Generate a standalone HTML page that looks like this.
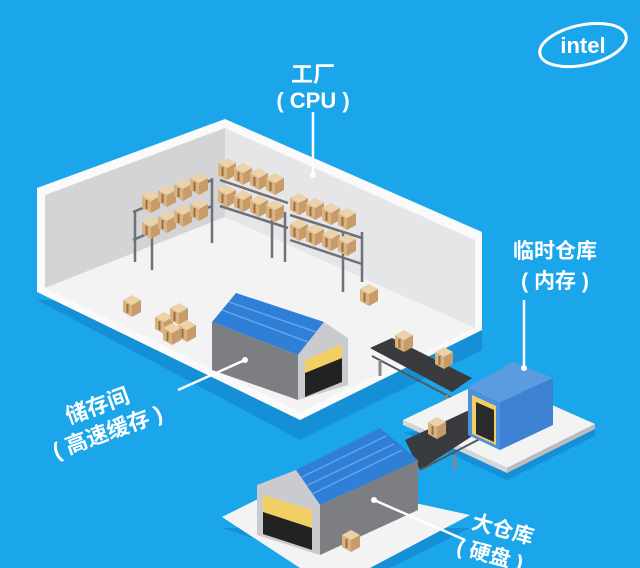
<!DOCTYPE html>
<html><head><meta charset="utf-8"><style>
html,body{margin:0;padding:0;background:#1ba6ec;}
svg{display:block}
text{font-family:"Liberation Sans","Noto Sans CJK SC",sans-serif;fill:#fff;font-weight:bold}
</style></head><body>
<svg width="640" height="568" viewBox="0 0 640 568" xmlns="http://www.w3.org/2000/svg">
<rect width="640" height="568" fill="#1ba6ec"/>
<defs>
<g id="box"><polygon points="0,5 9,0 18,5 9,10" fill="#ecd2a8"/><polygon points="0,5 9,10 9,22 0,17" fill="#d9b282"/><polygon points="9,10 18,5 18,17 9,22" fill="#c89c6a"/><rect x="3.5" y="9" width="2" height="9" fill="#9a6e40"/></g>
</defs>
<!-- shadows -->
<polygon points="37,300 300,440 482,350 482,300" fill="#1590d6"/>
<polygon points="403,432 507,480 595,436 595,424" fill="#1590d6"/>
<polygon points="222,528 370,578 470,528" fill="#1590d6"/>
<!-- room outer -->
<polygon points="37,188 225,119 482,232 482,330 300,420 37,292" fill="#fafafa"/>
<polygon points="45,195 225,128 225,217 45,288" fill="#d4d4d6"/>
<polygon points="225,128 475,240 475,328 225,217" fill="#e6e6e8"/>
<polygon points="45,288 225,217 475,328 300,412" fill="#f3f3f3"/>
<!-- shelves -->
<g stroke="#6d7178" stroke-width="2.5" fill="none">
<line x1="133" y1="212" x2="212" y2="180"/><line x1="133" y1="240" x2="212" y2="206"/>
<line x1="220" y1="180" x2="288" y2="203"/><line x1="220" y1="206" x2="288" y2="228"/>
<line x1="290" y1="215" x2="362" y2="238"/><line x1="290" y1="240" x2="362" y2="264"/>
<line x1="135" y1="212" x2="135" y2="262"/><line x1="152" y1="218" x2="152" y2="270"/>
<line x1="212" y1="178" x2="212" y2="243"/><line x1="272" y1="205" x2="272" y2="258"/>
<line x1="285" y1="212" x2="285" y2="262"/><line x1="343" y1="233" x2="343" y2="292"/><line x1="362" y1="232" x2="362" y2="282"/>
</g>
<g>
<use href="#box" x="142" y="191"/><use href="#box" x="158" y="185"/><use href="#box" x="174" y="179"/><use href="#box" x="190" y="173"/>
<use href="#box" x="142" y="217"/><use href="#box" x="158" y="211"/><use href="#box" x="174" y="205"/><use href="#box" x="190" y="199"/>
<use href="#box" x="218" y="158"/><use href="#box" x="234" y="163"/><use href="#box" x="250" y="168"/><use href="#box" x="266" y="173"/>
<use href="#box" x="218" y="185"/><use href="#box" x="234" y="190"/><use href="#box" x="250" y="195"/><use href="#box" x="266" y="200"/>
<use href="#box" x="290" y="193"/><use href="#box" x="306" y="198"/><use href="#box" x="322" y="203"/><use href="#box" x="338" y="208"/>
<use href="#box" x="290" y="219"/><use href="#box" x="306" y="224"/><use href="#box" x="322" y="229"/><use href="#box" x="338" y="234"/>
<use href="#box" x="360" y="284"/><use href="#box" x="123" y="295"/>
<use href="#box" x="155" y="312"/><use href="#box" x="170" y="303"/><use href="#box" x="178" y="320"/><use href="#box" x="163" y="323"/>
</g>
<!-- small warehouse (cache) -->
<polygon points="212,322 298,355 298,400 212,370" fill="#7c7e82"/>
<polygon points="212,322 236,293 324,322 298,355" fill="#2f7fd6"/>
<g stroke="#5fa6ee" stroke-width="1.5"><line x1="222" y1="310" x2="308" y2="342"/><line x1="229" y1="302" x2="316" y2="332"/></g>
<polygon points="298,355 324,322 348,338 348,385 298,400" fill="#c9cbcf"/>
<polygon points="305,360 342,344 342,370 305,385" fill="#f2cf62"/>
<polygon points="305,373 342,358 342,382 305,397" fill="#222"/>
<!-- conveyors -->
<polygon points="370,348 392,338 472,378 452,392" fill="#3a3b3e"/>
<line x1="372" y1="356" x2="452" y2="398" stroke="#55585c" stroke-width="2"/>
<line x1="380" y1="360" x2="380" y2="376" stroke="#888" stroke-width="3"/><line x1="447" y1="395" x2="447" y2="410" stroke="#888" stroke-width="3"/>
<use href="#box" x="395" y="330"/><use href="#box" x="435" y="347"/>
<!-- memory platform -->
<polygon points="403,420 491,378 595,424 507,468" fill="#f3f3f3"/>
<polygon points="403,420 507,468 507,473 403,425" fill="#d5d5d8"/>
<polygon points="507,468 595,424 595,429 507,473" fill="#bcbcc0"/>
<!-- lower conveyor -->
<polygon points="405,440 480,405 497,420 420,470" fill="#3a3b3e"/>
<line x1="420" y1="470" x2="497" y2="430" stroke="#55585c" stroke-width="2"/>
<line x1="455" y1="455" x2="455" y2="470" stroke="#888" stroke-width="3"/>
<use href="#box" x="428" y="417"/>
<!-- cube -->
<polygon points="468,387 513,362 553,378 500,402" fill="#5b9be0"/>
<polygon points="500,402 553,378 553,425 500,450" fill="#3d82d2"/>
<polygon points="468,387 500,402 500,450 468,435" fill="#4a90dc"/>
<polygon points="472,395 496,406 496,445 472,434" fill="#f2cf62"/>
<polygon points="476,402 494,410 494,442 476,434" fill="#2a2a2a"/>
<line x1="524" y1="300" x2="524" y2="368" stroke="#fff" stroke-width="2.5"/><circle cx="524" cy="368" r="3" fill="#fff"/>
<!-- lower platform -->
<polygon points="222,517 300,478 470,515 370,568 300,568" fill="#f3f3f3"/>
<!-- lower warehouse -->
<polygon points="320,505 418,460 418,510 320,555" fill="#7c7e82"/>
<polygon points="296,470 380,428 418,460 320,505" fill="#2f7fd6"/>
<g stroke="#5fa6ee" stroke-width="1.5"><line x1="300" y1="478" x2="386" y2="436"/><line x1="306" y1="486" x2="394" y2="444"/><line x1="312" y1="494" x2="402" y2="450"/></g>
<polygon points="257,485 296,470 320,505 320,555 257,535" fill="#c9cbcf"/>
<polygon points="263,495 312,510 312,528 263,514" fill="#f2cf62"/>
<polygon points="263,512 312,528 312,550 263,534" fill="#222"/>
<use href="#box" x="342" y="530"/>
<!-- leader lines -->
<line x1="313" y1="112" x2="313" y2="175" stroke="#fff" stroke-width="2.5"/><circle cx="313" cy="175" r="3" fill="#fff"/>
<line x1="178" y1="390" x2="245" y2="360" stroke="#fff" stroke-width="2.5"/><circle cx="245" cy="360" r="3" fill="#fff"/>
<line x1="374" y1="500" x2="465" y2="540" stroke="#fff" stroke-width="2.5"/><circle cx="374" cy="500" r="3" fill="#fff"/>
<!-- labels -->
<text x="313" y="82" font-size="22" text-anchor="middle">工厂</text>
<text x="313" y="108" font-size="22" text-anchor="middle">( CPU )</text>
<text x="555" y="258" font-size="21" text-anchor="middle">临时仓库</text>
<text x="555" y="288" font-size="21" text-anchor="middle">( 内存 )</text>
<g transform="rotate(-20 110 420)"><text x="70" y="410" font-size="22">储存间</text><text x="46" y="438" font-size="22">( 高速缓存 )</text></g>
<g transform="rotate(15 470 530)"><text x="470" y="528" font-size="21">大仓库</text><text x="462" y="556" font-size="21">( 硬盘 )</text></g>
<!-- intel -->
<ellipse cx="583" cy="45" rx="44" ry="20" fill="none" stroke="#fff" stroke-width="3" transform="rotate(-12 583 45)"/>
<text x="583" y="53" font-size="22" text-anchor="middle">intel</text>
</svg>
</body></html>
